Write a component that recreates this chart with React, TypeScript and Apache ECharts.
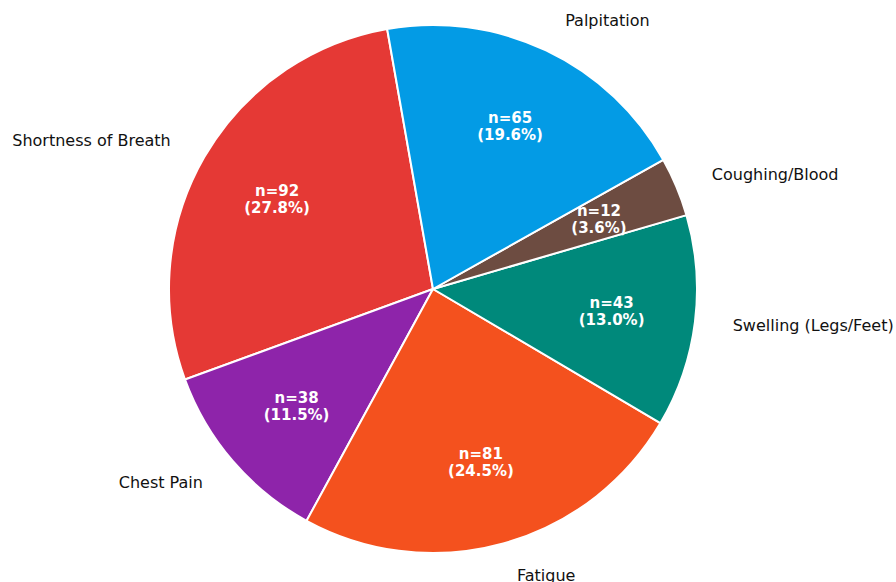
import React, { useEffect, useRef } from "react";
import * as echarts from "echarts";

const categories = ["Shortness of Breath", "Chest Pain", "Fatigue", "Swelling (Legs/Feet)", "Coughing/Blood", "Palpitation"];
const counts = [92, 38, 81, 43, 12, 65];
const colors = ["#E53935", "#8E24AA", "#F4511E", "#00897B", "#6D4C41", "#039BE5"];

const total = counts.reduce((a, b) => a + b, 0);

export default function App() {
  const ref = useRef<HTMLDivElement>(null);
  useEffect(() => {
    if (!ref.current) return;
    const chart = echarts.init(ref.current, undefined, { renderer: "svg" });
    const data = categories.map((name, i) => ({
      name,
      value: counts[i],
      itemStyle: { color: colors[i] },
    }));
    const center = [433, 289];
    chart.setOption({
      animation: false,
      backgroundColor: "#ffffff",
      series: [
        {
          type: "pie",
          center,
          radius: 264,
          startAngle: 100,
          clockwise: false,
          avoidLabelOverlap: false,
          silent: true,
          itemStyle: { borderColor: "#ffffff", borderWidth: 2 },
          label: {
            show: true,
            position: "outside",
            formatter: "{b}",
            fontFamily: "DejaVu Sans",
            fontSize: 16,
            color: "#111111",
            distanceToLabelLine: 5,
          },
          labelLine: { show: false, length: 33, length2: 0 },
          emphasis: { disabled: true },
          data,
        },
        {
          type: "pie",
          center,
          radius: [92, 262],
          startAngle: 100,
          clockwise: false,
          avoidLabelOverlap: false,
          silent: true,
          itemStyle: { color: "rgba(0,0,0,0)", borderWidth: 0 },
          label: {
            show: true,
            position: "inside",
            formatter: (p: any) => `n=${p.value}\n(${((p.value / total) * 100).toFixed(1)}%)`,
            fontFamily: "DejaVu Sans",
            fontWeight: "bold",
            fontSize: 15,
            lineHeight: 17,
            color: "#ffffff",
            align: "center",
          },
          labelLine: { show: false },
          emphasis: { disabled: true },
          data: categories.map((name, i) => ({ name, value: counts[i] })),
        },
      ],
    });
    return () => chart.dispose();
  }, []);
  return (
    <div
      ref={ref}
      style={{ position: "fixed", left: 0, top: 0, width: 896, height: 582, background: "#fff" }}
    />
  );
}
